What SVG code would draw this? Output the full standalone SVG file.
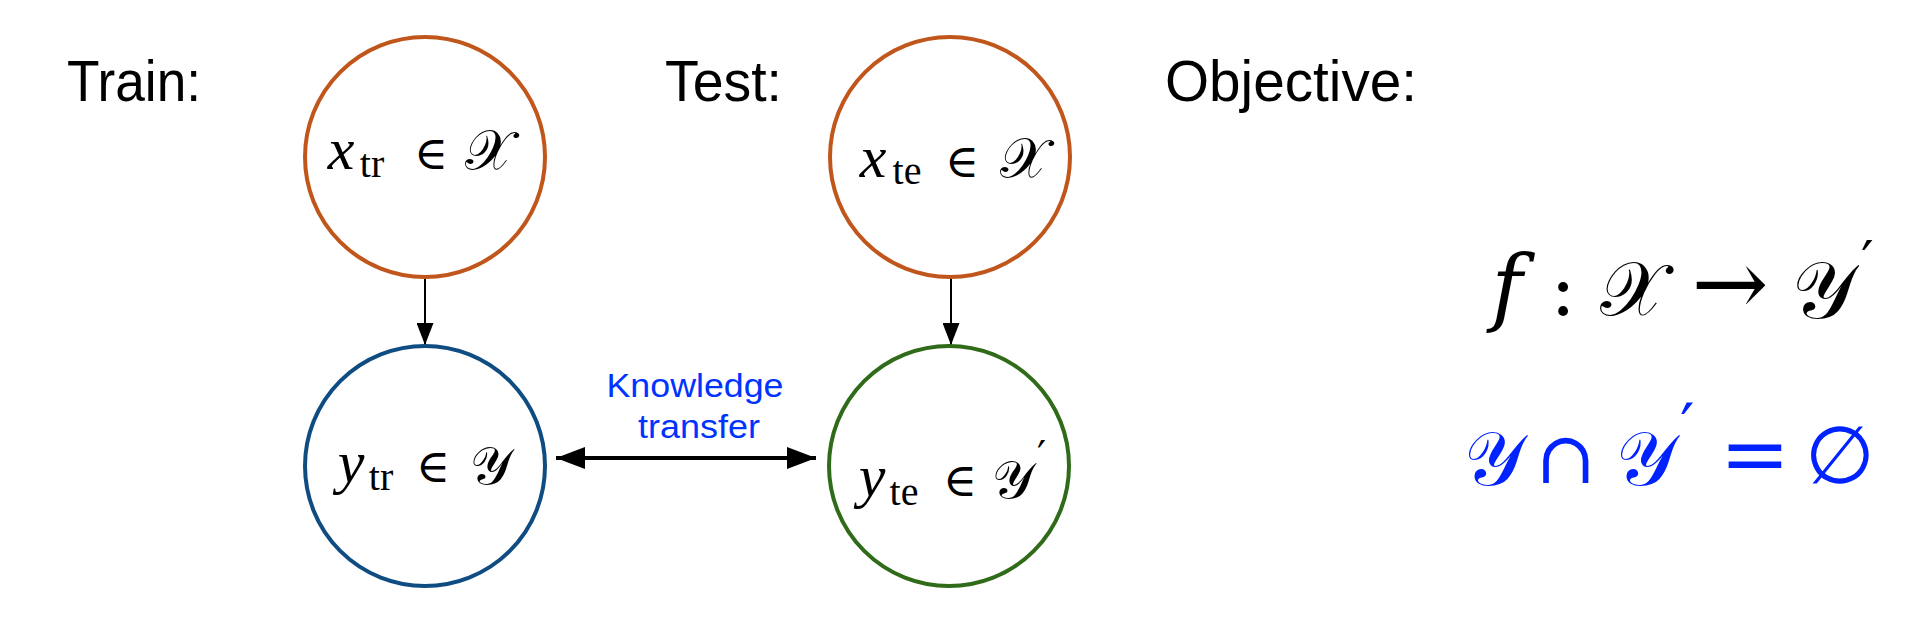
<svg xmlns="http://www.w3.org/2000/svg" width="1916" height="632" viewBox="0 0 1916 632">
<style>
.lbl{font-family:"Liberation Sans",Arial,sans-serif;font-size:57px;fill:#000}
.node{fill:#fff;stroke-width:4}
.mi{font-family:"Liberation Serif","DejaVu Serif",serif;font-style:italic;font-size:60px;text-anchor:middle}
.sub{font-family:"Liberation Serif","DejaVu Serif",serif;font-size:40px;text-anchor:middle}
.op{font-family:"DejaVu Serif","Liberation Serif",serif;font-size:46px;text-anchor:middle}
.sc{font-family:"DejaVu Serif","DejaVu Sans","Noto Sans",serif;font-size:56px;text-anchor:middle}
.scy{font-family:"DejaVu Serif","DejaVu Sans","Noto Sans",serif;font-size:53px;text-anchor:middle}
.pr{font-family:"DejaVu Sans","Liberation Sans",sans-serif;font-size:34px;text-anchor:start}
.kt{font-family:"Liberation Sans",Arial,sans-serif;font-size:34px;fill:#0033ff;text-anchor:middle}
.blue{fill:#0022ff}
</style>
<defs>
<marker id="ah" viewBox="0 0 22 17" refX="22" refY="8.5" markerWidth="22" markerHeight="17" markerUnits="userSpaceOnUse" orient="auto">
<path d="M0,0 L22,8.5 L0,17 Z" fill="#000"/>
</marker>
<marker id="ahb" viewBox="0 0 29 22" refX="29" refY="11" markerWidth="29" markerHeight="22" markerUnits="userSpaceOnUse" orient="auto-start-reverse">
<path d="M0,0 L29,11 L0,22 Z" fill="#000"/>
</marker>
</defs>
<rect width="1916" height="632" fill="#fff"/>
<g id="labels">
<text class="lbl" x="67" y="101" textLength="134" lengthAdjust="spacingAndGlyphs">Train:</text>
<text class="lbl" x="665" y="101" textLength="117" lengthAdjust="spacingAndGlyphs">Test:</text>
<text class="lbl" x="1165" y="101" textLength="252" lengthAdjust="spacingAndGlyphs">Objective:</text>
</g>
<g id="connectors" fill="none" stroke="#000">
<line x1="425" y1="278" x2="425" y2="345" stroke-width="2" marker-end="url(#ah)"/>
<line x1="951" y1="278" x2="951" y2="345" stroke-width="2" marker-end="url(#ah)"/>
<line x1="556" y1="458" x2="816" y2="458" stroke-width="4" marker-start="url(#ahb)" marker-end="url(#ahb)"/>
<text class="kt" x="695" y="397" stroke="none" textLength="177" lengthAdjust="spacingAndGlyphs">Knowledge</text>
<text class="kt" x="699" y="438" stroke="none" textLength="122" lengthAdjust="spacingAndGlyphs">transfer</text>
</g>
<g id="node-xtr">
<circle class="node" cx="425" cy="157" r="120" stroke="#c0561b"/>
<text class="mi" x="341" y="169">x</text>
<text class="sub" x="372" y="177">tr</text>
<text class="op" x="431" y="169">∈</text>
<text class="sc" x="489" y="169">𝒳</text>
</g>
<g id="node-ytr">
<circle class="node" cx="425" cy="466" r="120" stroke="#0f4c81"/>
<text class="mi" x="351" y="482">y</text>
<text class="sub" x="381" y="490">tr</text>
<text class="op" x="433" y="482">∈</text>
<text class="scy" x="491" y="484">𝒴</text>
</g>
<g id="node-xte">
<circle class="node" cx="950" cy="157" r="120" stroke="#c0561b"/>
<text class="mi" x="873" y="177">x</text>
<text class="sub" x="907" y="184">te</text>
<text class="op" x="962" y="177">∈</text>
<text class="sc" x="1024" y="177">𝒳</text>
</g>
<g id="node-yte">
<circle class="node" cx="949" cy="466" r="120" stroke="#2f6b18"/>
<text class="mi" x="872" y="496">y</text>
<text class="sub" x="904" y="505">te</text>
<text class="op" x="960" y="496">∈</text>
<text class="scy" x="1013" y="498">𝒴</text>
<text class="pr" x="1037" y="470" style="font-size:40px">′</text>
</g>
<g id="objective">
<text class="mi" x="1507" y="315" style="font-size:84px;font-family:'DejaVu Serif',serif">f</text>
<text class="op" x="1563" y="315" style="font-size:76px">:</text>
<text class="sc" x="1632" y="315" style="font-size:76px">𝒳</text>
<text class="op" x="1730" y="315" style="font-size:92px">→</text>
<text class="sc" x="1823" y="318" style="font-size:80px">𝒴</text>
<text class="pr" x="1861" y="280" style="font-size:56px">′</text>
</g>
<g id="disjoint" class="blue">
<text class="sc" x="1494" y="485" style="font-size:76px">𝒴</text>
<text class="op" x="1566" y="483" style="font-size:72px">∩</text>
<text class="sc" x="1646" y="485" style="font-size:76px">𝒴</text>
<text class="pr" x="1680" y="449" style="font-size:64px">′</text>
<text class="op" x="1755" y="483" style="font-size:84px">=</text>
<text class="op" x="1840" y="483" style="font-size:80px">∅</text>
</g>
</svg>
